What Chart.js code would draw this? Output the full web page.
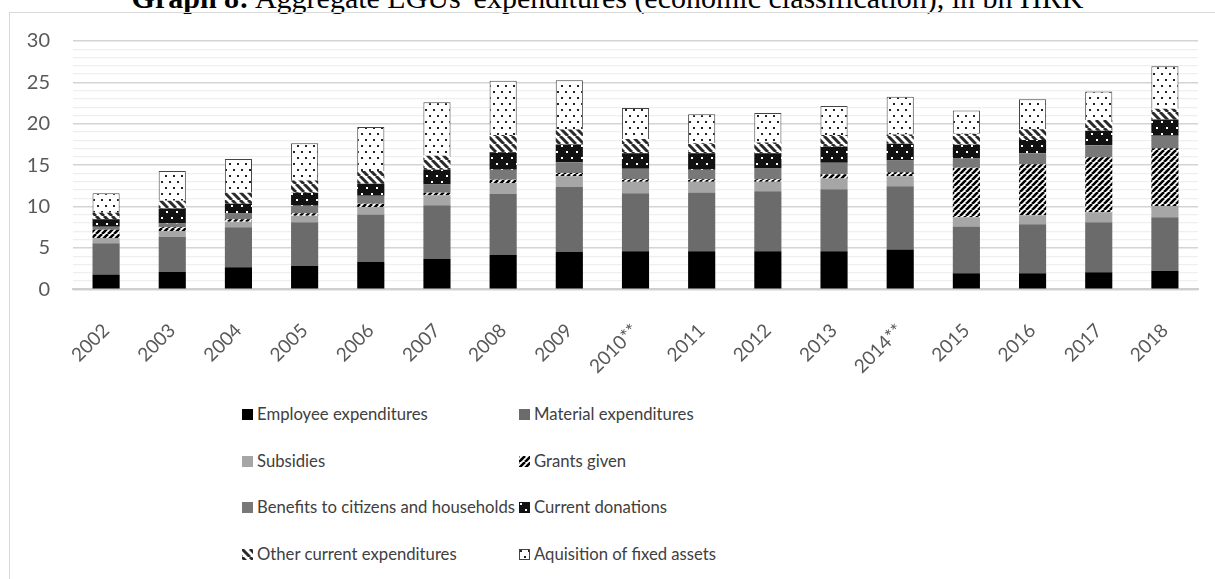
<!DOCTYPE html>
<html lang="en">
<head>
<meta charset="utf-8" />
<title>Aggregate LGUs' expenditures</title>
<style>
  body { margin: 0; width: 1215px; height: 579px; overflow: hidden; position: relative; background: #fff; font-family: Lato, "Open Sans", sans-serif; }
  .title { position: absolute; left: 0; width: 1215px; top: -17px; line-height: 30px; text-align: center; font-family: "Liberation Serif", serif; font-size: 30px; color: #000; white-space: nowrap; }
  .frame { position: absolute; left: 9px; top: 12px; width: 1240px; height: 600px; border: 1px solid #d9d9d9; }
  .plot { position: absolute; left: 0; top: 0; width: 1215px; height: 400px; }
  .item { position: absolute; font-size: 16.7px; color: #404040; white-space: nowrap; line-height: 20px; }
  .item i { display: inline-block; width: 11px; height: 11px; margin-right: 4px; vertical-align: 0px; }
</style>
</head>
<body>
<div class="title"><b>Graph 8:</b> Aggregate LGUs' expenditures (economic classification), in bn HRK</div>
<div class="frame"></div>
<div class="plot"><canvas id="chart" width="1215" height="400"></canvas></div>
<div id="legend"></div>
<script src="https://cdn.jsdelivr.net/npm/chart.js@4.4.1/dist/chart.umd.min.js"></script>
<script>
const years = ["2002", "2003", "2004", "2005", "2006", "2007", "2008", "2009", "2010**",
  "2011", "2012", "2013", "2014**", "2015", "2016", "2017", "2018"];

// bn HRK per category
const employee     = [1.8, 2.1, 2.65, 2.85, 3.3, 3.65, 4.15, 4.5, 4.6, 4.6, 4.6, 4.6, 4.8, 1.95, 1.95, 2.05, 2.25];
const material     = [3.75, 4.25, 4.85, 5.25, 5.75, 6.5, 7.35, 7.85, 7.0, 7.1, 7.25, 7.5, 7.65, 5.65, 5.9, 6.05, 6.45];
const subsidies    = [0.65, 0.7, 0.65, 0.8, 0.9, 1.2, 1.35, 1.3, 1.4, 1.3, 1.15, 1.3, 1.2, 1.1, 1.1, 1.2, 1.35];
const grants       = [1.0, 0.45, 0.3, 0.3, 0.4, 0.3, 0.4, 0.4, 0.3, 0.3, 0.3, 0.5, 0.5, 6.0, 6.15, 6.65, 7.0];
const benefits     = [0.35, 0.45, 0.7, 0.9, 0.95, 1.0, 1.2, 1.3, 1.25, 1.15, 1.3, 1.4, 1.4, 1.1, 1.35, 1.45, 1.5];
const donations    = [0.9, 1.8, 1.2, 1.55, 1.45, 1.8, 2.1, 2.15, 1.9, 2.0, 1.85, 1.95, 2.05, 1.65, 1.6, 1.75, 1.95];
const otherCurrent = [0.8, 0.95, 1.3, 1.5, 1.55, 1.7, 2.1, 1.8, 1.7, 1.2, 1.3, 1.4, 1.1, 1.35, 1.3, 1.3, 1.3];
const fixedAssets  = [2.35, 3.6, 4.1, 4.5, 5.3, 6.45, 6.55, 5.95, 3.75, 3.5, 3.55, 3.5, 4.55, 2.8, 3.6, 3.45, 5.15];

const yTicks = [0, 5, 10, 15, 20, 25, 30];

// small tiles used as fill patterns (bars and legend swatches)
function tile(w, h, draw) {
  const c = document.createElement("canvas");
  c.width = w; c.height = h;
  draw(c.getContext("2d"), w, h);
  return c;
}
function stripeTile(size, width, color, up) {
  return tile(size, size, function (g, s) {
    g.fillStyle = "#fff"; g.fillRect(0, 0, s, s);
    g.strokeStyle = color; g.lineWidth = width;
    for (let k = -1; k <= 1; k++) {
      g.beginPath();
      if (up) { g.moveTo(k * s, s); g.lineTo(k * s + s, 0); }
      else { g.moveTo(k * s, 0); g.lineTo(k * s + s, s); }
      g.stroke();
    }
  });
}
function dotTile(w, h, bg, fg) {
  return tile(w, h, function (g) {
    g.fillStyle = bg; g.fillRect(0, 0, w, h);
    g.fillStyle = fg;
    g.fillRect(1, 1, 2, 2);
    g.fillRect(1 + w / 2, 1 + h / 2, 2, 2);
  });
}

const ctx = document.getElementById("chart").getContext("2d");
const tiles = {
  grants: stripeTile(6, 2.6, "#000", true),
  other: stripeTile(8, 3, "#2a2a2a", false),
  donations: dotTile(10, 12, "#111", "#fff"),
  fixed: dotTile(8, 12, "#fff", "#222")
};
function pat(t) { return ctx.createPattern(t, "repeat"); }

const series = [
  { label: "Employee expenditures", data: employee, fill: "#000000" },
  { label: "Material expenditures", data: material, fill: "#6b6b6b" },
  { label: "Subsidies", data: subsidies, fill: "#a6a6a6" },
  { label: "Grants given", data: grants, tile: tiles.grants },
  { label: "Benefits to citizens and households", data: benefits, fill: "#787878" },
  { label: "Current donations", data: donations, tile: tiles.donations },
  { label: "Other current expenditures", data: otherCurrent, tile: tiles.other },
  { label: "Aquisition of fixed assets", data: fixedAssets, tile: tiles.fixed, border: "#444" }
];

new Chart(ctx, {
  type: "bar",
  data: {
    labels: years,
    datasets: series.map(function (s) {
      return {
        label: s.label,
        data: s.data,
        backgroundColor: s.tile ? pat(s.tile) : s.fill,
        borderColor: s.border || "transparent",
        borderWidth: s.border ? 1 : 0,
        categoryPercentage: 0.41,
        barPercentage: 1
      };
    })
  },
  options: {
    responsive: false,
    animation: false,
    layout: { padding: { left: 27, right: 17, top: 41, bottom: 0 } },
    plugins: { legend: { display: false }, tooltip: { enabled: false } },
    scales: {
      x: {
        stacked: true,
        grid: { display: false },
        border: { color: "#cfcfcf", width: 2 },
        ticks: { minRotation: 45, maxRotation: 45, color: "#595959", font: { family: "Lato", size: 19 }, padding: 22 }
      },
      y: {
        stacked: true,
        min: 0, max: 30,
        border: { display: false },
        grid: {
          drawTicks: false,
          color: function (c) { return yTicks.indexOf(c.tick.value) >= 0 ? "#d4d4d4" : "#efefef"; },
          lineWidth: function (c) { return yTicks.indexOf(c.tick.value) >= 0 ? 1.5 : 1.3; }
        },
        ticks: {
          stepSize: 1,
          autoSkip: false,
          padding: 23,
          color: "#595959",
          font: { family: "Lato", size: 20 },
          callback: function (v) { return yTicks.indexOf(v) >= 0 ? v : ""; }
        },
        // fixed axis width: two-digit labels plus padding
        afterFit: function (scale) { scale.width = 46; }
      }
    }
  }
});

// two-column legend below the plot
const legend = document.getElementById("legend");
series.forEach(function (s, i) {
  const el = document.createElement("div");
  el.className = "item";
  el.style.left = (i % 2 === 0 ? 242 : 519) + "px";
  el.style.top = (404 + Math.floor(i / 2) * 46.5) + "px";
  const sw = document.createElement("i");
  if (s.tile) sw.style.background = "url(" + s.tile.toDataURL() + ")";
  else sw.style.background = s.fill;
  if (s.border) sw.style.boxShadow = "inset 0 0 0 1px " + s.border;
  el.appendChild(sw);
  el.appendChild(document.createTextNode(s.label));
  legend.appendChild(el);
});
</script>
</body>
</html>
